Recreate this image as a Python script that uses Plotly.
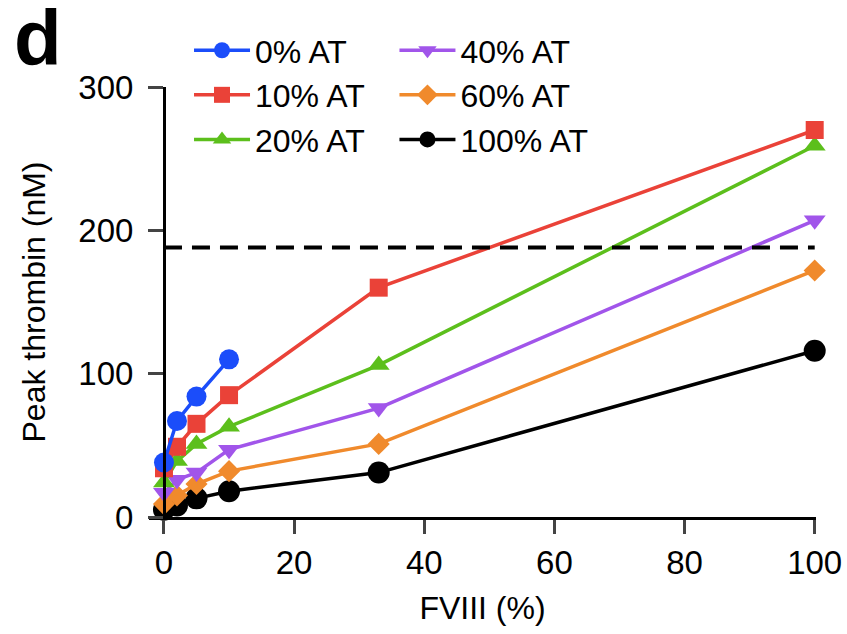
import plotly.graph_objects as go

fviii = [0, 2, 5, 10, 33, 100]
fviii_0 = [0, 2, 5, 10]
at0 = [38, 67, 84, 110]
at10 = [34, 49, 65, 85, 160, 270]
at20 = [24, 39, 51, 63, 106, 259]
at40 = [17, 26, 31, 47, 76, 207]
at60 = [9, 15, 23, 32, 51, 172]
at100 = [5, 8, 13, 18, 31, 116]
threshold = 188

xticks = [0, 20, 40, 60, 80, 100]
yticks = [0, 100, 200, 300]

FONT = "Liberation Sans, Arial, Helvetica, sans-serif"

series = [
    ("100% AT", fviii, at100, "#000000", "circle", 22, "legend2"),
    ("60% AT", fviii, at60, "#f08a2c", "diamond", 17, "legend2"),
    ("40% AT", fviii, at40, "#a155ea", "triangle-down", 19, "legend2"),
    ("20% AT", fviii, at20, "#5cbf1c", "triangle-up", 19, "legend"),
    ("10% AT", fviii, at10, "#ea4238", "square", 18, "legend"),
    ("0% AT", fviii_0, at0, "#1b4dfa", "circle", 20, "legend"),
]
rank = {"0% AT": 1, "10% AT": 2, "20% AT": 3, "40% AT": 1, "60% AT": 2, "100% AT": 3}

fig = go.Figure()
for name, xs, ys, col, sym, sz, lg in series:
    fig.add_trace(go.Scatter(
        x=xs, y=ys, name=name, mode="lines+markers",
        line=dict(color=col, width=3.5),
        marker=dict(color=col, symbol=sym, size=sz, line=dict(width=0)),
        cliponaxis=False, legend=lg, legendrank=rank[name],
    ))

fig.add_shape(type="line", xref="x", yref="y", x0=0, x1=100,
              y0=threshold, y1=threshold,
              line=dict(color="black", width=4, dash="18px,10px"))

xmin, xmax = -2.3, 100.2
fig.update_layout(
    width=847, height=634,
    margin=dict(l=149, r=31, t=87, b=117, autoexpand=False),
    paper_bgcolor="white", plot_bgcolor="white",
    font=dict(family=FONT, size=32, color="black"),
    showlegend=True,
    legend=dict(x=0.06, y=1.149, xanchor="left", yanchor="top",
                font=dict(size=32), tracegroupgap=0, itemwidth=56,
                bgcolor="rgba(0,0,0,0)"),
    legend2=dict(x=0.368, y=1.149, xanchor="left", yanchor="top",
                 font=dict(size=32), tracegroupgap=0, itemwidth=56,
                 bgcolor="rgba(0,0,0,0)"),
    xaxis=dict(range=[xmin, xmax], tickvals=xticks, ticks="outside",
               ticklen=14, tickwidth=3, showline=True, linewidth=3,
               linecolor="black", showgrid=False, zeroline=False,
               tickfont=dict(size=33),
               title=dict(text="FVIII (%)", font=dict(size=32), standoff=18)),
    yaxis=dict(range=[0, 300], tickvals=yticks, ticks="outside",
               ticklen=15, tickwidth=3, showline=True, linewidth=3,
               linecolor="black", showgrid=False, zeroline=False,
               anchor="free", position=(0 - xmin) / (xmax - xmin),
               tickfont=dict(size=33), ticklabelstandoff=8,
               title=dict(text="Peak thrombin (nM)", font=dict(size=32), standoff=22)),
)

fig.add_annotation(text="<b>d</b>", xref="paper", yref="paper",
                   x=-0.206, y=1.115, xanchor="left", yanchor="middle",
                   showarrow=False, font=dict(size=78, family=FONT))

fig.write_html("out.html", config={"displayModeBar": False},
               post_script="document.body.style.margin='0';")
